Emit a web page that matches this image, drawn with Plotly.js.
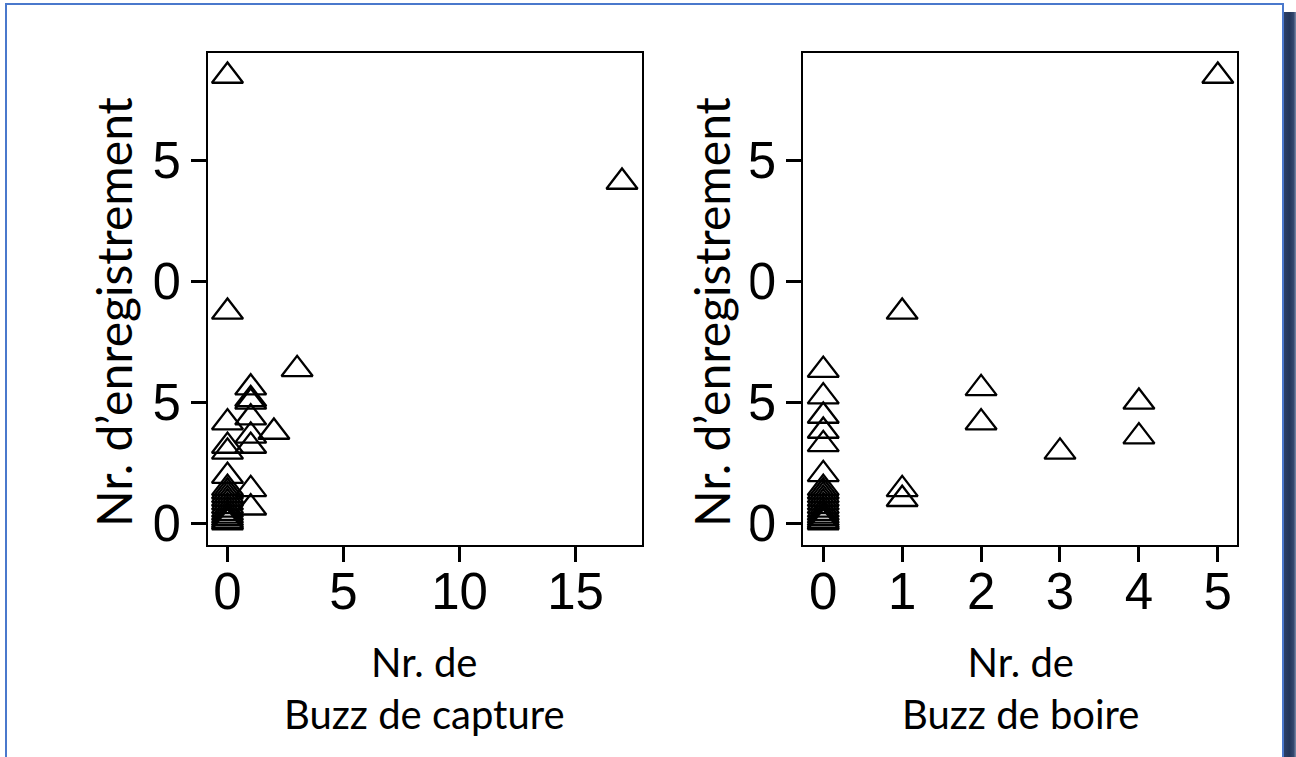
<!DOCTYPE html>
<html>
<head>
<meta charset="utf-8">
<script src="https://cdn.plot.ly/plotly-3.0.1.min.js"></script>
<style>
  html, body { margin: 0; padding: 0; background: #ffffff; overflow: hidden; }
  #frame {
    position: absolute; left: 5px; top: 3px; width: 1275px; height: 800px;
    border: 2px solid #4a78cc; background: #ffffff;
    z-index: 0;
  }
  #shadow {
    position: absolute; left: 1284px; top: 12px; width: 12px; height: 760px;
    background: linear-gradient(to right, #2c3f66 0%, #22355a 45%, #34486f 80%, #7d8cab 100%);
    z-index: 0;
  }
  #chart { position: absolute; left: 0; top: 0; width: 1296px; height: 757px; z-index: 1; }
</style>
</head>
<body>
<div id="frame"></div>
<div id="shadow"></div>
<div id="chart"></div>
<script>
// Left panel: Nr. de Buzz de capture vs Nr. d'enregistrement
const captureX = [0, 0, 0, 0, 0, 0, 17, 3, 2, 1, 1, 1, 1, 1, 1, 1, 1,
                  0, 0, 0, 0, 0, 0, 0, 0, 0, 0, 0, 0];
const captureY = [18.48, 8.73, 4.16, 3.19, 2.95, 1.95, 14.1, 6.36, 3.77, 5.60, 5.12, 5.01, 4.36, 3.61, 3.19, 1.40, 0.64,
                  1.45, 1.30, 1.15, 1.00, 0.85, 0.70, 0.55, 0.42, 0.30, 0.20, 0.10, 0.03];

// Right panel: Nr. de Buzz de boire vs Nr. d'enregistrement
const boireX = [0, 0, 0, 0, 0, 0, 1, 1, 1, 2, 2, 3, 4, 4, 5,
                0, 0, 0, 0, 0, 0, 0, 0, 0, 0, 0, 0];
const boireY = [6.33, 5.23, 4.43, 3.81, 3.26, 2.02, 8.73, 1.40, 0.99, 5.57, 4.16, 2.95, 5.01, 3.58, 18.48,
                1.45, 1.30, 1.15, 1.00, 0.85, 0.70, 0.55, 0.42, 0.30, 0.20, 0.10, 0.03];

const yTicks = [0, 5, 10, 15];
const captureTicks = [0, 5, 10, 15];
const boireTicks = [0, 1, 2, 3, 4, 5];

const yTitle = "Nr. d’enregistrement";
const xTitleLeft = "Nr. de<br>Buzz de capture";
const xTitleRight = "Nr. de<br>Buzz de boire";

const W = 1296, H = 757;
const px = v => v / W;
const py = v => 1 - v / H;

const marker = {symbol: 'triangle-up-open', size: 27, color: '#000000', line: {width: 2.3, color: '#000000'}};

const traces = [
  {x: captureX, y: captureY, type: 'scatter', mode: 'markers', marker: marker, xaxis: 'x', yaxis: 'y', hoverinfo: 'x+y'},
  {x: boireX, y: boireY, type: 'scatter', mode: 'markers', marker: marker, xaxis: 'x2', yaxis: 'y2', hoverinfo: 'x+y'}
];

const tickFont = {family: 'Liberation Sans, Arial, sans-serif', size: 51, color: '#000000'};
const axisCommon = {
  showline: true, mirror: true, linecolor: '#000000', linewidth: 2,
  ticks: 'outside', ticklen: 15, tickwidth: 3, tickcolor: '#000000',
  showgrid: false, zeroline: false, tickfont: tickFont, tickmode: 'array', fixedrange: true
};

const xTitleFont = {family: 'Lato, Carlito, sans-serif', size: 40, color: '#000000'};
const yTitleFont = {family: 'Lato, Carlito, sans-serif', size: 48, color: '#000000'};

const layout = {
  width: W, height: H,
  margin: {l: 0, r: 0, t: 0, b: 0},
  paper_bgcolor: 'rgba(0,0,0,0)', plot_bgcolor: '#ffffff',
  showlegend: false,
  xaxis: Object.assign({}, axisCommon, {domain: [px(208), px(641.5)], range: [-0.84, 17.84], tickvals: captureTicks, anchor: 'y', ticklabelstandoff: -14}),
  yaxis: Object.assign({}, axisCommon, {domain: [py(545), py(53)], range: [-0.9, 19.43], tickvals: yTicks, anchor: 'x'}),
  xaxis2: Object.assign({}, axisCommon, {domain: [px(803.3), px(1237.3)], range: [-0.253, 5.247], tickvals: boireTicks, anchor: 'y2', ticklabelstandoff: -14}),
  yaxis2: Object.assign({}, axisCommon, {domain: [py(545), py(53)], range: [-0.9, 19.43], tickvals: yTicks, anchor: 'x2'}),
  annotations: [
    {text: xTitleLeft, xref: 'paper', yref: 'paper', x: px(424.7), y: py(688), xanchor: 'center', yanchor: 'middle',
     showarrow: false, font: xTitleFont, align: 'center'},
    {text: xTitleRight, xref: 'paper', yref: 'paper', x: px(1020), y: py(688), xanchor: 'center', yanchor: 'middle',
     showarrow: false, font: xTitleFont, align: 'center'},
    {text: yTitle, xref: 'paper', yref: 'paper', x: px(113), y: py(312), xanchor: 'center', yanchor: 'middle',
     showarrow: false, font: yTitleFont, textangle: -90, bgcolor: '#ffffff', height: 80, valign: 'middle'},
    {text: yTitle, xref: 'paper', yref: 'paper', x: px(711), y: py(312), xanchor: 'center', yanchor: 'middle',
     showarrow: false, font: yTitleFont, textangle: -90, bgcolor: '#ffffff', height: 76, valign: 'middle'}
  ]
};

Plotly.newPlot('chart', traces, layout, {staticPlot: true, displayModeBar: false});
</script>
</body>
</html>
